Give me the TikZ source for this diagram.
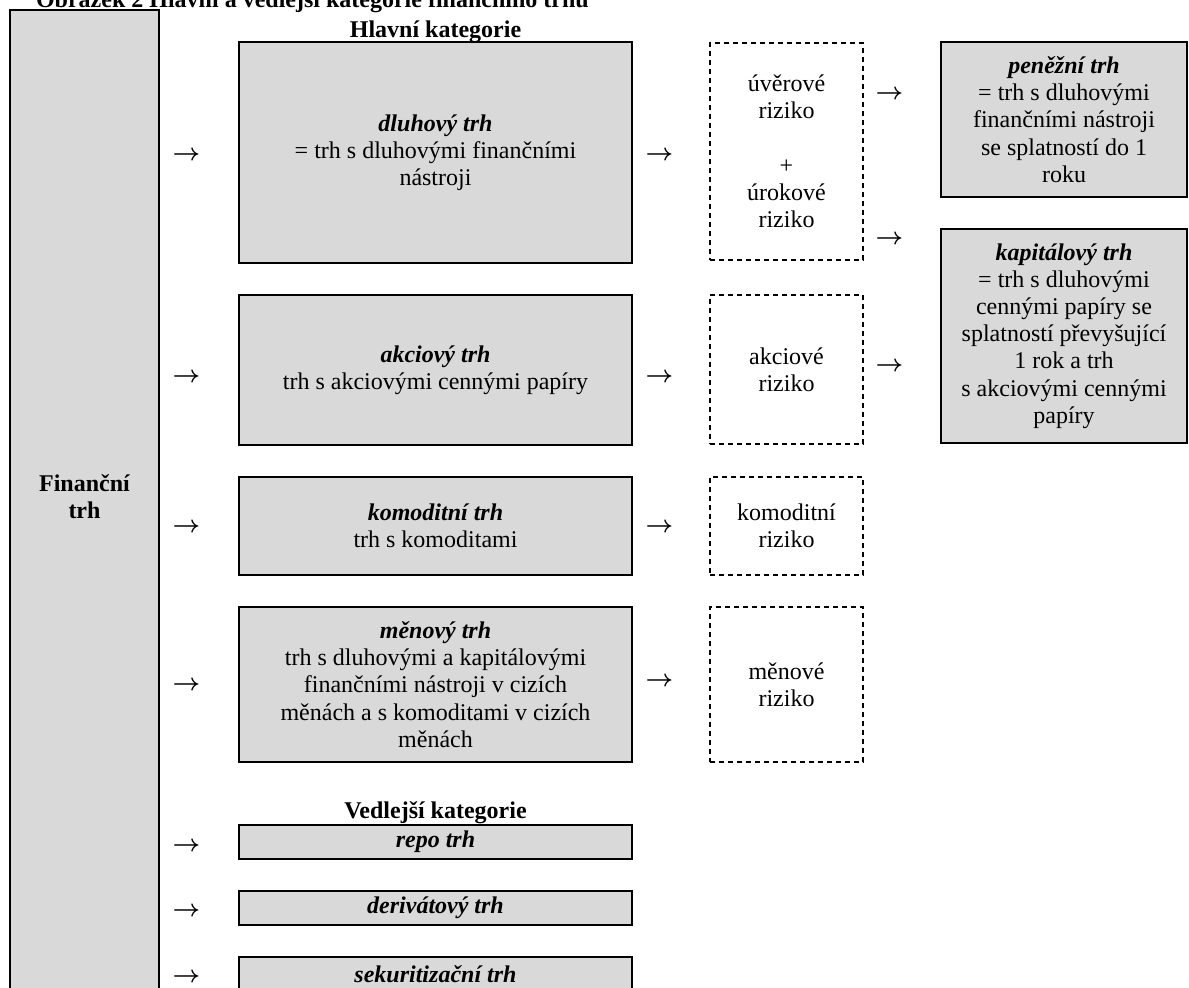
\documentclass[tikz,border=0pt]{standalone}
\usepackage{fontspec}
\setmainfont{Liberation Serif}
\definecolor{boxgray}{HTML}{D9D9D9}

\begin{document}
\begin{tikzpicture}[x=0.5pt,y=-0.5pt,
every node/.style={font=\fontsize{12}{13.6}\selectfont, align=center},
graybox/.style={draw=black, fill=boxgray, line width=1pt, inner sep=1pt},
riskbox/.style={draw=black, line width=1pt, dash pattern=on 2.5pt off 2pt, inner sep=1pt},
arrownode/.style={inner sep=0pt, font=\fontsize{12.5}{13.6}\selectfont\boldmath}
]
    \useasboundingbox (0,0) rectangle (1189,987);
    \clip (0,0) rectangle (1189,987);

    \node [anchor=base west, font=\fontsize{12}{13.6}\selectfont\bfseries] (title) at (29,7)
        {Obrázek 2 Hlavní a vedlejší kategorie finančního trhu};

    \node [graybox, minimum width=74.5pt, minimum height=495pt] (fin) at (84.5,505) {};
    \node [font=\fontsize{12}{13.6}\selectfont\bfseries] (finlabel) at (84.5,497) {Finanční\\trh};

    \node [anchor=base, font=\fontsize{12}{13.6}\selectfont\bfseries] (hlavni) at (435.5,37) {Hlavní kategorie};

    \node [graybox, minimum width=196.5pt, minimum height=110.5pt] (dluh) at (435.5,152.5)
        {\textbf{\textit{dluhový trh}}\\= trh s dluhovými finančními\\nástroji};
    \node [graybox, minimum width=196.5pt, minimum height=75pt] (akc) at (435.5,370)
        {\textbf{\textit{akciový trh}}\\trh s akciovými cennými papíry};
    \node [graybox, minimum width=196.5pt, minimum height=49pt] (kom) at (435.5,526)
        {\textbf{\textit{komoditní trh}}\\trh s komoditami};
    \node [graybox, minimum width=196.5pt, minimum height=77.5pt] (men) at (435.5,684.5)
        {\textbf{\textit{měnový trh}}\\trh s dluhovými a kapitálovými\\finančními nástroji v cizích\\měnách a s komoditami v cizích\\měnách};

    \node [anchor=base, font=\fontsize{12}{13.6}\selectfont\bfseries] (vedlejsi) at (435.5,818) {Vedlejší kategorie};

    \node [graybox, minimum width=196.5pt, minimum height=17pt] (repo) at (435.5,842) {\textbf{\textit{repo trh}}};
    \node [graybox, minimum width=196.5pt, minimum height=17pt] (deriv) at (435.5,908) {\textbf{\textit{derivátový trh}}};
    \node [graybox, minimum width=196.5pt, minimum height=17pt] (sek) at (435.5,974) {\textbf{\textit{sekuritizační trh}}};

    \node [riskbox, minimum width=76.5pt, minimum height=108.5pt] (r1) at (786.5,151.5)
        {úvěrové\\riziko\\[13.6pt]+\\úrokové\\riziko};
    \node [riskbox, minimum width=76.5pt, minimum height=74.5pt] (r2) at (786.5,369.5) {akciové\\riziko};
    \node [riskbox, minimum width=76.5pt, minimum height=49pt] (r3) at (786.5,526) {komoditní\\riziko};
    \node [riskbox, minimum width=76.5pt, minimum height=77.5pt] (r4) at (786.5,684.5) {měnové\\riziko};

    \node [graybox, minimum width=123pt, minimum height=77.5pt] (pen) at (1064,119.5)
        {\textbf{\textit{peněžní trh}}\\= trh s dluhovými\\finančními nástroji\\se splatností do 1\\roku};
    \node [graybox, minimum width=123pt, minimum height=107pt] (kap) at (1064,336)
        {\textbf{\textit{kapitálový trh}}\\= trh s dluhovými\\cennými papíry se\\splatností převyšující\\1 rok a trh\\s akciovými cennými\\papíry};

    \node [arrownode] (a1) at (186.5,156) {$\rightarrow$};
    \node [arrownode] (a2) at (186.5,378) {$\rightarrow$};
    \node [arrownode] (a3) at (186.5,528) {$\rightarrow$};
    \node [arrownode] (a4) at (186.5,686) {$\rightarrow$};
    \node [arrownode] (a5) at (186.5,847) {$\rightarrow$};
    \node [arrownode] (a6) at (186.5,912) {$\rightarrow$};
    \node [arrownode] (a7) at (186.5,978) {$\rightarrow$};

    \node [arrownode] (b1) at (659.5,156) {$\rightarrow$};
    \node [arrownode] (b2) at (659.5,378) {$\rightarrow$};
    \node [arrownode] (b3) at (659.5,528) {$\rightarrow$};
    \node [arrownode] (b4) at (659.5,682) {$\rightarrow$};

    \node [arrownode] (c1) at (889.5,95) {$\rightarrow$};
    \node [arrownode] (c2) at (889.5,240) {$\rightarrow$};
    \node [arrownode] (c3) at (889.5,367) {$\rightarrow$};
\end{tikzpicture}
\end{document}
